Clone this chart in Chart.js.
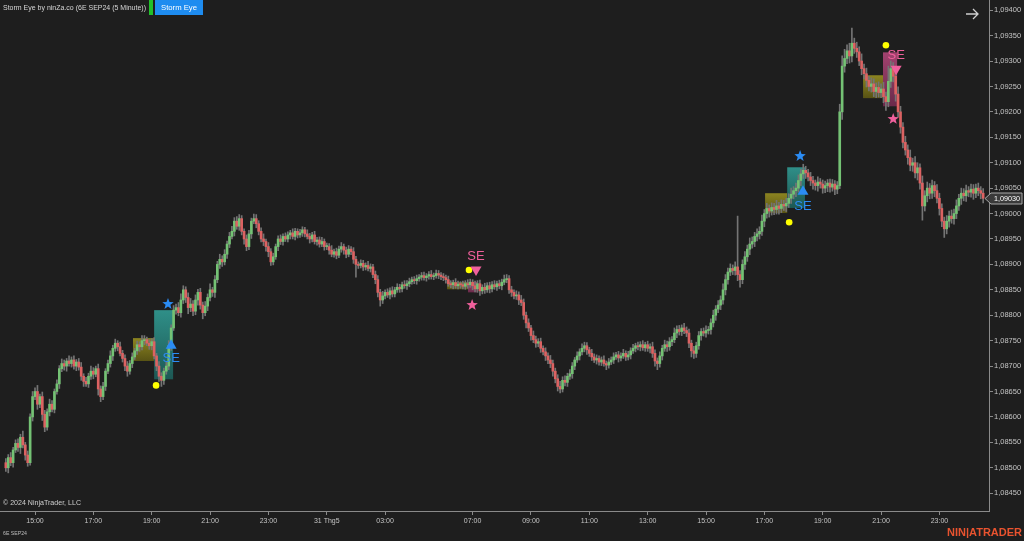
<!DOCTYPE html>
<html>
<head>
<meta charset="utf-8">
<script src="https://cdn.jsdelivr.net/npm/chart.js@4.4.1/dist/chart.umd.min.js"></script>
<style>
  html, body { margin: 0; padding: 0; background: #1e1e1e; overflow: hidden; }
  canvas { display: block; }
</style>
</head>
<body>
<canvas id="chart" width="1024" height="541"></canvas>
<script>
// 6E SEP24, 5 minute bars. prices in 0.00001 steps above 1.08000
const firstOpen = 510;
const closes = [
  500,520,510,535,548,540,560,545,525,510,
  600,640,650,625,640,605,580,610,625,615,
  650,665,695,705,700,710,705,712,700,708,
  698,680,670,665,680,690,684,695,655,640,
  660,690,705,720,735,745,738,725,715,700,
  690,705,718,730,742,738,750,752,745,740,
  748,720,700,680,672,690,700,740,775,810,
  815,805,830,850,835,815,822,808,830,845,
  820,805,818,835,850,845,870,900,910,905,
  920,940,955,965,985,975,990,965,950,935,
  960,985,990,980,965,950,945,935,925,905,
  915,935,950,945,955,950,958,962,955,965,
  958,962,968,960,955,950,958,945,948,940,
  945,935,935,928,920,925,918,930,935,928,
  920,930,925,910,900,898,902,895,898,892,
  895,880,870,845,830,838,845,840,848,842,
  850,855,852,860,858,862,866,870,868,872,
  875,878,874,877,880,876,878,882,879,876,
  874,870,862,860,864,858,861,860,857,862,
  860,865,858,852,862,848,855,850,858,852,
  860,856,862,858,865,870,872,850,845,838,
  840,830,825,800,785,775,760,752,745,748,
  735,728,720,712,705,690,675,660,655,672,
  668,680,685,700,712,720,728,735,740,732,
  725,718,712,715,708,712,705,702,708,712,
  718,722,716,720,725,718,722,730,735,740,
  738,742,736,742,735,738,725,710,705,720,
  735,742,738,748,752,765,772,768,775,770,
  765,745,730,725,740,760,768,765,770,772,
  785,800,812,820,830,850,870,885,892,888,
  895,880,870,900,915,930,940,945,955,960,
  965,985,1000,1010,1005,1012,1008,1015,1010,1018,
  1015,1020,1030,1038,1045,1050,1065,1078,1085,1080,
  1072,1065,1060,1055,1062,1058,1050,1055,1060,1052,
  1058,1048,1055,1200,1290,1305,1320,1310,1335,1325,
  1318,1300,1285,1275,1262,1250,1255,1240,1248,1238,
  1245,1230,1220,1260,1285,1270,1235,1200,1170,1140,
  1125,1110,1095,1100,1080,1090,1060,1015,1035,1050,
  1040,1055,1045,1030,1010,985,970,985,995,990,
  1000,1015,1030,1040,1035,1045,1042,1048,1040,1050,
  1045,1040,1030
];
const upWick = [
  8,6,10,5,7,9,6,12,5,8, 6,10,7,12,5,9,8,6,10,7, 5,8,6,9,7,5,10,6,8,5, 7,9,5,8,6,10,7,5,9,6,
  8,5,7,10,6,8,5,9,6,7, 9,6,8,5,7,6,10,8,5,7, 6,8,5,9,7,6,8,10,6,9, 7,10,12,8,6,9,11,7,10,6,
  8,6,9,7,12,5,8,6,10,7, 9,6,8,10,7,9,8,6,5,8, 7,6,9,8,6,7,10,5,8,6, 7,5,6,8,5,7,6,5,8,6,
  5,7,6,5,8,6,5,7,5,6, 8,5,7,6,9,5,7,6,8,5, 6,7,5,8,6,5,7,6,5,8, 6,5,7,8,6,9,5,7,6,8,
  5,7,6,5,8,6,7,5,6,7, 5,6,7,5,6,8,5,7,6,5, 6,5,7,6,5,8,6,5,7,6, 8,6,5,9,6,7,5,8,6,7,
  6,8,5,7,6,9,8,6,7,5, 8,6,9,7,6,8,5,9,7,6, 7,5,8,6,9,7,6,8,10,7, 9,6,8,7,5,8,6,9,7,6,
  5,8,6,7,5,6,8,5,7,6, 8,5,7,6,8,5,7,6,8,5, 7,6,8,5,7,6,9,7,6,8, 6,9,7,8,6,10,7,8,6,9,
  7,8,6,9,7,8,6,7,9,6, 8,10,7,9,8,12,10,8,9,7, 10,100,8,9,10,8,12,9,8,10, 9,12,8,10,7,9,8,11,7,9,
  8,10,9,12,8,10,11,9,12,8, 7,9,8,6,10,7,8,9,7,8, 9,7,8,15,20,18,12,15,30,10, 12,10,14,9,11,8,12,10,9,11,
  10,13,9,30,15,12,10,14,11,9, 12,10,15,9,12,10,8,14,10,12, 9,11,8,12,10,9,8,11,10,12, 9,12,8,10,9,11,8,10,9,8,
  10,8,9
];
const downWick = [
  7,10,6,9,5,8,12,6,10,7, 5,8,6,10,7,12,9,6,8,5, 7,5,9,6,8,10,5,7,6,9, 6,8,10,5,7,6,9,5,12,10,
  6,8,5,7,9,6,8,5,7,9, 10,6,8,5,7,9,6,8,5,7, 8,6,9,10,12,8,6,7,9,5, 8,6,9,7,10,12,8,9,7,10,
  8,12,6,9,7,8,10,6,8,9, 6,8,7,5,9,6,8,7,10,8, 6,9,5,8,7,6,8,9,10,7, 6,5,8,6,7,5,6,8,5,7,
  6,5,7,6,5,8,6,5,7,6, 5,7,6,8,5,6,7,5,6,8, 7,5,6,8,25,6,5,7,6,5, 7,6,8,9,12,7,6,5,8,6,
  6,5,7,6,5,7,6,5,6,7, 5,6,5,7,6,5,6,5,7,6, 6,7,5,6,8,5,6,7,5,6, 7,5,8,6,7,9,6,7,5,8,
  6,5,7,6,8,5,6,7,8,6, 7,9,6,8,10,7,9,6,8,7, 8,6,9,7,8,10,8,9,8,6, 7,8,6,9,7,5,8,6,7,9,
  6,7,5,8,6,7,5,9,6,5, 7,5,8,6,5,7,6,8,5,7, 6,8,5,7,6,9,8,10,12,7, 8,6,9,7,8,6,9,7,8,6,
  7,9,12,10,8,7,9,6,8,7, 9,8,10,7,9,8,10,9,7,8, 9,12,15,8,10,9,11,8,10,9, 10,8,11,9,12,8,10,9,11,8,
  9,11,8,10,9,12,8,10,9,11, 8,10,12,9,11,8,10,9,12,10, 8,11,9,6,15,12,10,14,12,10, 11,9,12,10,13,9,11,10,12,9,
  10,12,17,10,12,11,14,10,12,11, 10,13,11,12,10,14,12,28,10,12, 11,10,12,9,13,11,17,10,12,9, 11,10,9,12,10,11,9,10,12,9,
  10,11,9
];

const xTickIdx = [12, 36, 60, 84, 108, 132, 156, 192, 216, 240, 264, 288, 312, 336, 360, 384];
const xTickLabels = ['15:00', '17:00', '19:00', '21:00', '23:00', '31 Thg5', '03:00', '07:00',
  '09:00', '11:00', '13:00', '15:00', '17:00', '19:00', '21:00', '23:00'];
const yTicks = [1.0845, 1.0850, 1.0855, 1.0860, 1.0865, 1.0870, 1.0875, 1.0880, 1.0885, 1.0890,
  1.0895, 1.0900, 1.0905, 1.0910, 1.0915, 1.0920, 1.0925, 1.0930, 1.0935, 1.0940];

// Storm Eye zones: bar index from/to, price top/bottom (units), kind
const boxFrom = [52.3, 61, 181.5, 190.1, 312.3, 321.4, 352.6, 360.8];
const boxTo   = [61, 68.8, 190.9, 193.8, 321.4, 328.7, 360.8, 366.6];
const boxTop  = [755, 810, 865, 865, 1040, 1091, 1272, 1317];
const boxBot  = [710, 674, 851, 845, 1001, 1011, 1227, 1211];
const boxKind = ['base', 'long', 'base', 'short', 'base', 'long', 'base', 'short'];

// signals: bar index and price (units) of each marker
const sigDir   = ['long', 'short', 'long', 'short'];
const dotIdx   = [61.8, 190.5, 322.2, 362];
const dotVal   = [662, 889, 983, 1331];
const starIdx  = [66.7, 191.8, 326.7, 365];
const starVal  = [822, 820, 1113, 1186];
const triIdx   = [68, 193.4, 327.9, 366.2];
const triVal   = [743, 887, 1046, 1282];
const labelVal = [716, 916, 1014, 1311];

const toPrice = v => (108000 + v) / 100000;
const opens = closes.map((c, i) => i === 0 ? firstOpen : closes[i - 1]);

const bodyData = closes.map((c, i) => ({ x: i, y: [toPrice(opens[i]), toPrice(c)] }));
const wickData = closes.map((c, i) => ({
  x: i,
  y: [toPrice(Math.min(opens[i], c) - (downWick[i] || 0)), toPrice(Math.max(opens[i], c) + (upWick[i] || 0))]
}));
const bodyColors = closes.map((c, i) => c >= opens[i] ? '#74c274' : '#dc6262');

const SANS = "'Liberation Sans', Arial, sans-serif";
const BLUE = '#2b8cf4';
const PINK = '#f0609c';

const bgPlugin = {
  id: 'bg',
  beforeDraw(chart) {
    const ctx = chart.ctx;
    ctx.save();
    ctx.fillStyle = '#1e1e1e';
    ctx.fillRect(0, 0, chart.width, chart.height);
    ctx.restore();
  }
};

const zonePlugin = {
  id: 'zones',
  beforeDatasetsDraw(chart) {
    const { ctx, scales: { x, y } } = chart;
    ctx.save();
    boxFrom.forEach((from, k) => {
      const x1 = x.getPixelForValue(from), x2 = x.getPixelForValue(boxTo[k]);
      const y1 = y.getPixelForValue(toPrice(boxTop[k])), y2 = y.getPixelForValue(toPrice(boxBot[k]));
      const g = ctx.createLinearGradient(0, y1, 0, y2);
      if (boxKind[k] === 'base') {
        g.addColorStop(0, '#8c8420');
        g.addColorStop(1, '#585314');
      } else if (boxKind[k] === 'long') {
        g.addColorStop(0, '#2f8f88');
        g.addColorStop(1, '#1d5854');
      } else {
        g.addColorStop(0, '#a2426f');
        g.addColorStop(1, '#6a2a4a');
      }
      ctx.fillStyle = g;
      ctx.fillRect(x1, y1, x2 - x1, y2 - y1);
    });
    ctx.restore();
  }
};

function star(ctx, cx, cy, r) {
  ctx.beginPath();
  for (let k = 0; k < 10; k++) {
    const rr = k % 2 === 0 ? r : r * 0.42;
    const a = -Math.PI / 2 + k * Math.PI / 5;
    ctx.lineTo(cx + rr * Math.cos(a), cy + rr * Math.sin(a));
  }
  ctx.closePath();
  ctx.fill();
}

const signalPlugin = {
  id: 'signals',
  afterDatasetsDraw(chart) {
    const { ctx, scales: { x, y } } = chart;
    ctx.save();
    sigDir.forEach((dir, k) => {
      const col = dir === 'long' ? BLUE : PINK;
      // yellow dot
      ctx.fillStyle = '#ffff00';
      ctx.beginPath();
      ctx.arc(x.getPixelForValue(dotIdx[k]), y.getPixelForValue(toPrice(dotVal[k])), 3.3, 0, Math.PI * 2);
      ctx.fill();
      // star
      ctx.fillStyle = col;
      star(ctx, x.getPixelForValue(starIdx[k]), y.getPixelForValue(toPrice(starVal[k])), 6);
      // triangle
      const tx = x.getPixelForValue(triIdx[k]), ty = y.getPixelForValue(toPrice(triVal[k]));
      ctx.beginPath();
      if (dir === 'long') {
        ctx.moveTo(tx, ty - 5); ctx.lineTo(tx + 5.5, ty + 4.5); ctx.lineTo(tx - 5.5, ty + 4.5);
      } else {
        ctx.moveTo(tx, ty + 5); ctx.lineTo(tx + 5.5, ty - 4.5); ctx.lineTo(tx - 5.5, ty - 4.5);
      }
      ctx.closePath();
      ctx.fill();
      // label
      ctx.font = '13px ' + SANS;
      ctx.textAlign = 'center';
      ctx.textBaseline = 'middle';
      ctx.fillText('SE', tx, y.getPixelForValue(toPrice(labelVal[k])));
    });
    ctx.restore();
  }
};

const chromePlugin = {
  id: 'chrome',
  afterDraw(chart) {
    const { ctx, scales: { y } } = chart;
    ctx.save();
    // header
    ctx.font = '8px ' + SANS;
    ctx.textBaseline = 'middle';
    ctx.textAlign = 'left';
    ctx.fillStyle = '#d6d6d6';
    ctx.fillText('Storm Eye by ninZa.co (6E SEP24 (5 Minute))', 3, 8, 143);
    ctx.fillStyle = '#22c02a';
    ctx.fillRect(149, 0, 4, 15);
    ctx.fillStyle = '#1e8cf0';
    ctx.fillRect(155, 0, 48, 15);
    ctx.fillStyle = '#ffffff';
    ctx.textAlign = 'center';
    ctx.fillText('Storm Eye', 179, 8, 36);

    // arrow top right
    ctx.strokeStyle = '#d0d0d0';
    ctx.lineWidth = 1.3;
    ctx.beginPath();
    ctx.moveTo(966, 14); ctx.lineTo(978, 14);
    ctx.moveTo(973, 9); ctx.lineTo(978, 14); ctx.lineTo(973, 19);
    ctx.stroke();

    // footer
    ctx.textAlign = 'left';
    ctx.fillStyle = '#cfcfcf';
    ctx.font = '8px ' + SANS;
    ctx.fillText('\u00a9 2024 NinjaTrader, LLC', 3, 503, 78);
    ctx.font = '6px ' + SANS;
    ctx.fillStyle = '#bdbdbd';
    ctx.fillText('6E SEP24', 3, 533, 24);
    ctx.font = 'bold 11px ' + SANS;
    ctx.fillStyle = '#e9532f';
    ctx.textAlign = 'right';
    ctx.fillText('NIN|ATRADER', 1022, 533, 77);

    // last price marker
    const last = toPrice(closes[closes.length - 1]);
    const py = Math.round(y.getPixelForValue(last)) + 0.5;
    ctx.beginPath();
    ctx.moveTo(985, py);
    ctx.lineTo(991, py - 5.5);
    ctx.lineTo(1022, py - 5.5);
    ctx.lineTo(1022, py + 5.5);
    ctx.lineTo(991, py + 5.5);
    ctx.closePath();
    ctx.fillStyle = '#3a3a3a';
    ctx.fill();
    ctx.strokeStyle = '#a8a8a8';
    ctx.lineWidth = 1;
    ctx.stroke();
    ctx.fillStyle = '#ffffff';
    ctx.font = '8px ' + SANS;
    ctx.textAlign = 'left';
    ctx.fillText(last.toFixed(5).replace('.', ','), 994, py, 26);
    ctx.restore();
  }
};

new Chart(document.getElementById('chart').getContext('2d'), {
  type: 'bar',
  data: {
    datasets: [
      { data: bodyData, backgroundColor: bodyColors, barThickness: 2, minBarLength: 1, grouped: false, order: 0 },
      { data: wickData, backgroundColor: '#747474', barThickness: 1, grouped: false, order: 1 }
    ]
  },
  options: {
    responsive: false,
    animation: false,
    devicePixelRatio: 1,
    layout: { padding: 0 },
    plugins: { legend: { display: false }, tooltip: { enabled: false } },
    scales: {
      x: {
        type: 'linear',
        min: -2.4,
        max: 404.4,
        offset: false,
        grid: { drawOnChartArea: false, offset: false, color: '#8a8a8a', tickLength: 4 },
        border: { color: '#8a8a8a' },
        ticks: {
          autoSkip: false,
          maxRotation: 0,
          color: '#c4c4c4',
          padding: 2,
          font: { family: SANS, size: 7 },
          callback: v => xTickLabels[xTickIdx.indexOf(v)]
        },
        afterBuildTicks: s => { s.ticks = xTickIdx.map(v => ({ value: v })); },
        afterFit: s => { s.height = 30; s.paddingLeft = 0; s.paddingRight = 0; }
      },
      y: {
        position: 'right',
        min: 1.08415,
        max: 1.0942,
        grid: { drawOnChartArea: false, color: '#8a8a8a', tickLength: 4 },
        border: { color: '#8a8a8a' },
        ticks: {
          color: '#c4c4c4',
          padding: 1,
          font: { family: SANS, size: 7.5 },
          callback: v => v.toFixed(5).replace('.', ',')
        },
        afterBuildTicks: s => { s.ticks = yTicks.map(v => ({ value: v })); },
        afterFit: s => { s.width = 35; s.paddingTop = 0; s.paddingBottom = 0; }
      }
    }
  },
  plugins: [bgPlugin, zonePlugin, signalPlugin, chromePlugin]
});
</script>
</body>
</html>
